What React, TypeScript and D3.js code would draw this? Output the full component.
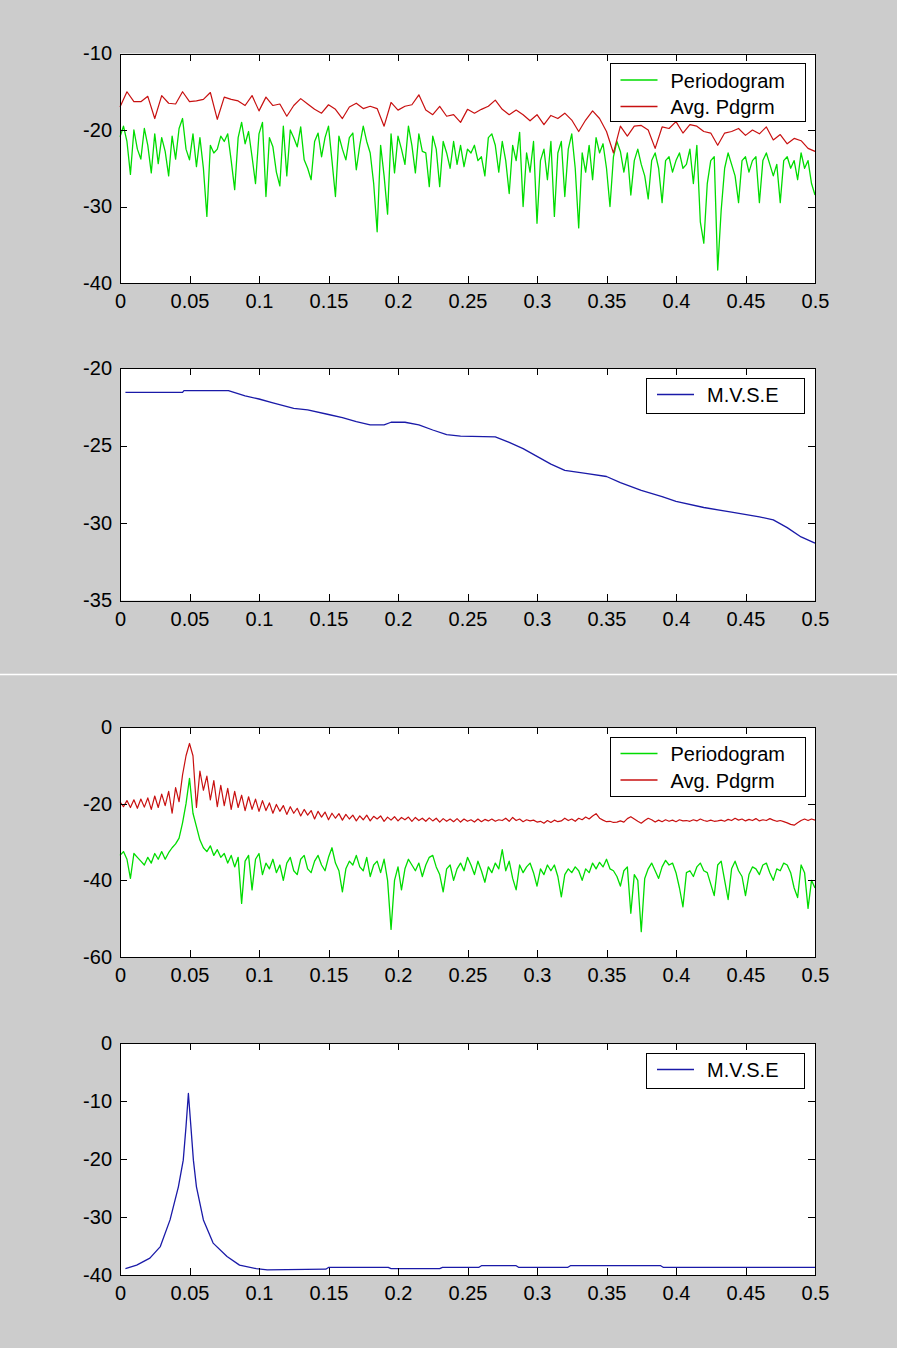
import React, { useRef, useEffect } from 'react';
import * as d3 from 'd3';

const WIDTH = 897;
const HEIGHT = 1348;
const PLOT_LEFT = 120;
const PLOT_RIGHT = 815;
const FONT = 'Liberation Sans, Arial, Helvetica, sans-serif';

// sample grids (normalised frequency 0 .. 0.5)
const freqGrid = d3.range(201).map((i) => (i * 0.5) / 200);
const avgGrid = d3.range(101).map((i) => (i * 0.5) / 100);

const xTicks = [0, 0.05, 0.1, 0.15, 0.2, 0.25, 0.3, 0.35, 0.4, 0.45, 0.5];

// ---- figure 1 : white-ish noise ----
const pdgrm1 = [
  -20.9, -19.5, -21.5, -25.8, -20.0, -22.5, -23.8, -19.8, -22.0, -25.6,
  -20.5, -24.4, -21.0, -22.8, -26.0, -20.8, -23.8, -19.8, -18.5, -22.5,
  -23.9, -20.5, -24.8, -21.0, -25.0, -31.3, -22.0, -23.0, -22.5, -20.8,
  -21.5, -20.5, -24.0, -27.8, -21.0, -19.0, -21.8, -20.2, -23.5, -27.0,
  -20.5, -19.0, -28.7, -21.0, -22.2, -25.5, -27.3, -19.5, -26.0, -20.0,
  -21.0, -22.2, -19.6, -23.9, -25.0, -26.5, -21.5, -20.4, -23.5, -21.0,
  -19.5, -24.0, -28.7, -20.8, -22.5, -23.9, -21.0, -20.4, -25.2, -22.0,
  -19.5, -21.5, -23.0, -27.0, -33.3, -22.0, -26.0, -31.0, -20.5, -25.6,
  -20.8, -22.5, -24.5, -19.5, -22.0, -25.6, -20.5, -22.8, -23.0, -27.4,
  -20.8, -22.5, -27.4, -21.5, -23.0, -25.0, -21.5, -24.5, -22.0, -24.8,
  -22.5, -23.0, -22.0, -24.0, -23.5, -26.0, -21.0, -20.5, -22.0, -25.5,
  -21.5, -24.0, -28.3, -22.0, -24.0, -20.3, -30.0, -23.0, -25.5, -21.5,
  -32.2, -24.0, -22.5, -26.5, -21.5, -31.3, -23.0, -21.5, -28.7, -22.5,
  -20.5, -25.0, -32.8, -23.0, -25.5, -22.0, -26.5, -21.0, -23.0, -21.8,
  -25.0, -30.0, -23.5, -21.5, -22.8, -25.5, -23.0, -28.5, -24.0, -22.5,
  -24.5, -26.0, -29.0, -24.0, -23.0, -25.0, -29.5, -24.0, -23.5, -25.5,
  -24.0, -23.0, -25.0, -24.5, -22.5, -27.0, -22.0, -32.0, -34.8, -27.0,
  -24.0, -23.5, -38.3, -30.5, -25.0, -23.0, -24.5, -26.0, -29.5, -24.0,
  -23.5, -25.5, -24.0, -23.5, -29.5, -24.0, -23.0, -24.5, -26.0, -24.5,
  -29.5, -24.0, -23.5, -25.0, -24.0, -26.5, -23.0, -25.0, -24.0, -27.0,
  -28.5,
];

const avg1 = [
  -17.0, -15.0, -16.3, -16.3, -15.6, -18.5, -15.5, -16.5, -16.6, -15.0,
  -16.3, -16.2, -16.0, -15.1, -18.6, -15.7, -16.0, -16.2, -16.8, -15.5,
  -17.5, -15.7, -16.8, -16.6, -18.2, -16.8, -15.9, -16.6, -17.3, -17.8,
  -16.7, -17.3, -18.5, -17.0, -16.5, -17.2, -16.9, -17.2, -19.5, -16.4,
  -17.4, -16.9, -16.7, -15.4, -17.4, -18.0, -16.9, -18.2, -18.0, -19.0,
  -17.3, -17.8, -17.3, -16.9, -16.1, -17.3, -18.0, -17.4, -18.0, -18.8,
  -18.0, -19.3, -18.1, -18.5, -17.8, -18.7, -20.2, -18.7, -17.5, -18.5,
  -20.2, -23.0, -19.5, -20.8, -19.5, -19.4, -20.0, -22.4, -19.6, -19.8,
  -18.9, -20.4, -19.3, -19.5, -20.2, -20.4, -22.0, -20.4, -20.2, -19.8,
  -20.7, -20.0, -20.5, -19.6, -21.3, -20.6, -21.8, -21.1, -21.4, -22.4,
  -22.8,
];

const mvse1Freq = [
  0.0039, 0.045, 0.046, 0.078, 0.09, 0.1, 0.11, 0.125, 0.135, 0.15, 0.16,
  0.17, 0.18, 0.19, 0.195, 0.205, 0.215, 0.225, 0.235, 0.245, 0.27, 0.28,
  0.29, 0.3, 0.31, 0.32, 0.335, 0.35, 0.36, 0.375, 0.39, 0.4, 0.42, 0.44,
  0.46, 0.47, 0.48, 0.49, 0.5,
];
const mvse1 = [
  -21.57, -21.57, -21.46, -21.46, -21.8, -22.0, -22.25, -22.6, -22.7, -23.0,
  -23.2, -23.46, -23.67, -23.67, -23.5, -23.5, -23.67, -24.0, -24.3, -24.4,
  -24.45, -24.8, -25.2, -25.7, -26.2, -26.6, -26.8, -27.0, -27.4, -27.9,
  -28.3, -28.6, -29.0, -29.3, -29.6, -29.8, -30.3, -30.9, -31.3,
];

// ---- figure 2 : sinusoid at 0.05 in noise ----
const pdgrm2 = [
  -33.5, -32.5, -34.5, -39.5, -33.0, -34.0, -35.0, -36.0, -34.0, -35.5,
  -33.0, -34.5, -32.5, -34.5, -32.8, -31.5, -30.5, -29.0, -25.0, -20.0,
  -13.4, -22.5, -26.0, -29.5, -31.5, -32.5, -31.0, -33.5, -32.0, -34.0,
  -33.0, -35.5, -33.5, -36.5, -34.0, -46.0, -35.0, -33.5, -42.5, -34.5,
  -33.0, -38.5, -35.5, -37.0, -34.5, -38.0, -36.0, -40.0, -35.5, -34.0,
  -37.5, -38.5, -34.5, -33.5, -37.0, -38.0, -35.0, -33.5, -36.0, -37.5,
  -34.0, -31.5, -35.5, -37.5, -43.0, -37.0, -35.0, -36.0, -33.5, -36.5,
  -37.5, -34.0, -39.0, -36.0, -35.0, -38.0, -34.5, -40.0, -52.8, -40.0,
  -36.5, -42.5, -37.0, -34.5, -36.0, -37.5, -35.5, -39.0, -36.0, -34.0,
  -33.5, -36.5, -38.5, -43.0, -37.0, -36.0, -40.0, -37.0, -35.5, -37.5,
  -34.0, -36.0, -38.5, -35.0, -37.5, -40.5, -36.5, -38.0, -35.5, -37.0,
  -32.0, -37.5, -35.0, -39.5, -42.5, -36.0, -38.0, -36.5, -35.5, -38.0,
  -41.5, -37.0, -38.5, -36.0, -37.5, -36.0, -39.0, -44.3, -38.5, -37.0,
  -38.0, -36.5, -37.5, -40.0, -37.0, -38.0, -35.5, -37.0, -35.3, -36.5,
  -34.5, -37.0, -37.5, -39.0, -41.5, -37.5, -36.5, -48.6, -38.5, -40.0,
  -53.4, -39.5, -37.0, -35.5, -37.5, -39.5, -36.5, -34.8, -36.0, -35.5,
  -38.0, -42.0, -46.9, -38.0, -37.5, -39.0, -36.5, -35.5, -37.5, -38.0,
  -41.0, -44.0, -36.0, -35.0, -40.0, -45.0, -37.0, -35.0, -37.5, -39.0,
  -44.0, -38.5, -36.5, -37.0, -38.5, -36.0, -35.5, -38.0, -40.0, -37.0,
  -37.5, -35.5, -36.0, -38.0, -42.0, -44.5, -36.0, -38.0, -47.3, -40.0,
  -42.0,
];

const avg2 = [
  -19.5, -20.8, -19.2, -21.0, -19.0, -21.2, -18.8, -20.9, -18.5, -21.5,
  -18.0, -21.0, -17.5, -20.5, -16.8, -22.5, -15.8, -19.5, -12.5, -7.5,
  -4.3, -7.5, -21.0, -11.5, -16.5, -12.8, -19.0, -14.0, -20.8, -15.2,
  -20.5, -16.0, -21.5, -16.8, -21.0, -17.8, -21.8, -18.2, -21.5, -18.8,
  -22.0, -19.2, -21.8, -19.8, -22.5, -20.2, -22.0, -20.5, -22.8, -20.8,
  -22.5, -21.2, -23.2, -21.5, -23.0, -21.8, -24.0, -22.0, -23.5, -22.2,
  -24.2, -22.5, -23.8, -22.6, -24.3, -22.8, -24.0, -23.0, -24.5, -23.2,
  -24.2, -23.0, -24.5, -23.3, -24.0, -23.2, -24.6, -23.5, -24.3, -23.4,
  -24.5, -23.6, -24.2, -23.5, -24.6, -23.6, -24.4, -23.8, -24.6, -23.7,
  -24.5, -23.8, -24.8, -23.9, -24.6, -24.0, -24.7, -23.9, -24.8, -24.0,
  -24.6, -24.2, -24.8, -24.0, -24.7, -24.1, -24.5, -24.0, -24.6, -24.2,
  -24.4, -23.8, -24.6, -23.6, -24.4, -24.0, -24.7, -24.2, -24.5, -24.3,
  -24.8, -24.6, -25.1, -24.4, -24.9, -24.3, -24.7, -24.5, -23.8, -24.4,
  -24.0, -24.6, -23.8, -24.2, -23.5, -24.0, -23.2, -22.6, -23.8, -24.3,
  -24.7, -24.6, -24.9, -24.8, -24.5, -24.8, -23.9, -23.4, -24.0, -24.6,
  -25.1, -24.4, -23.8, -24.2, -24.8, -24.3, -24.7, -24.2, -24.6, -24.3,
  -24.7, -24.2, -24.5, -24.4, -24.6, -24.2, -24.5, -24.0, -24.4, -24.6,
  -24.3, -24.6, -24.5, -24.3, -24.6, -24.1, -24.4, -23.8, -24.3, -24.0,
  -24.5, -24.1, -24.4, -23.9, -24.5, -24.2, -24.4, -23.9, -24.3, -24.6,
  -24.4, -24.7, -25.0, -25.4, -25.6, -25.0, -24.4, -24.0, -24.4, -24.0,
  -24.3,
];

const mvse2Freq = [
  0.0039, 0.012, 0.0215, 0.029, 0.036, 0.042, 0.0455, 0.0475, 0.0492, 0.051,
  0.0528, 0.055, 0.06, 0.067, 0.077, 0.086, 0.098, 0.106, 0.148, 0.15, 0.193,
  0.195, 0.23, 0.232, 0.258, 0.26, 0.285, 0.287, 0.322, 0.324, 0.389, 0.391,
  0.5,
];
const mvse2 = [
  -38.9, -38.3, -37.1, -35.1, -30.5, -24.8, -20.2, -14.4, -8.7, -14.4,
  -20.2, -24.8, -30.5, -34.5, -36.8, -38.3, -38.9, -39.1, -39.0, -38.7,
  -38.7, -38.9, -38.9, -38.7, -38.7, -38.4, -38.4, -38.7, -38.7, -38.4,
  -38.4, -38.7, -38.7,
];

const GREEN = '#00dc00';
const RED = '#c81010';
const BLUE = '#1a1aa8';

const panels = [
  {
    top: 53.5, bottom: 283, yDomain: [-40, -10], yTicks: [-40, -30, -20, -10],
    series: [
      { freq: freqGrid, values: pdgrm1, color: GREEN, width: 1.3 },
      { freq: avgGrid, values: avg1, color: RED, width: 1.2 },
    ],
    legend: { left: 609.5, height: 58, items: [
      { label: 'Periodogram', color: GREEN },
      { label: 'Avg. Pdgrm', color: RED },
    ] },
  },
  {
    top: 368, bottom: 600.5, yDomain: [-35, -20], yTicks: [-35, -30, -25, -20],
    series: [{ freq: mvse1Freq, values: mvse1, color: BLUE, width: 1.3 }],
    legend: { left: 646, height: 34.5, items: [{ label: 'M.V.S.E', color: BLUE }] },
  },
  {
    top: 727, bottom: 957, yDomain: [-60, 0], yTicks: [-60, -40, -20, 0],
    series: [
      { freq: freqGrid, values: pdgrm2, color: GREEN, width: 1.3 },
      { freq: freqGrid, values: avg2, color: RED, width: 1.2 },
    ],
    legend: { left: 609.5, height: 59, items: [
      { label: 'Periodogram', color: GREEN },
      { label: 'Avg. Pdgrm', color: RED },
    ] },
  },
  {
    top: 1043, bottom: 1275, yDomain: [-40, 0], yTicks: [-40, -30, -20, -10, 0],
    series: [{ freq: mvse2Freq, values: mvse2, color: BLUE, width: 1.3 }],
    legend: { left: 646, height: 34.5, items: [{ label: 'M.V.S.E', color: BLUE }] },
  },
];

const fmtX = (d) => String(+(+d).toFixed(2));

const Panel = ({ cfg }) => {
  const ref = useRef(null);

  useEffect(() => {
    const g = d3.select(ref.current);
    g.selectAll('*').remove();

    const x = d3.scaleLinear().domain([0, 0.5]).range([PLOT_LEFT, PLOT_RIGHT]);
    const y = d3.scaleLinear().domain(cfg.yDomain).range([cfg.bottom, cfg.top]);

    g.append('rect')
      .attr('x', PLOT_LEFT)
      .attr('y', cfg.top)
      .attr('width', PLOT_RIGHT - PLOT_LEFT)
      .attr('height', cfg.bottom - cfg.top)
      .attr('fill', '#fff');

    // data lines
    const line = d3.line().x((d) => x(d[0])).y((d) => y(d[1]));
    cfg.series.forEach((s) => {
      g.append('path')
        .datum(d3.zip(s.freq, s.values))
        .attr('d', line)
        .attr('fill', 'none')
        .attr('stroke', s.color)
        .attr('stroke-width', s.width)
        .attr('stroke-linejoin', 'round');
    });

    // axes, ticks pointing inward on all four sides
    const styleAxis = (sel) => {
      sel.select('.domain').remove();
      sel.attr('color', '#000')
        .attr('font-family', FONT)
        .attr('font-size', 20);
      sel.selectAll('line').attr('shape-rendering', 'crispEdges');
    };

    g.append('g')
      .attr('transform', `translate(0,${cfg.bottom})`)
      .call(d3.axisBottom(x).tickValues(xTicks).tickSize(-7).tickPadding(11).tickFormat(fmtX))
      .call(styleAxis);
    g.append('g')
      .attr('transform', `translate(0,${cfg.top})`)
      .call(d3.axisTop(x).tickValues(xTicks).tickSize(-7).tickFormat(() => ''))
      .call(styleAxis);
    g.append('g')
      .attr('transform', `translate(${PLOT_LEFT},0)`)
      .call(d3.axisLeft(y).tickValues(cfg.yTicks).tickSize(-7).tickPadding(8).tickFormat((d) => String(d)))
      .call(styleAxis);
    g.append('g')
      .attr('transform', `translate(${PLOT_RIGHT},0)`)
      .call(d3.axisRight(y).tickValues(cfg.yTicks).tickSize(-7).tickFormat(() => ''))
      .call(styleAxis);

    // box
    g.append('rect')
      .attr('x', PLOT_LEFT + 0.5)
      .attr('y', Math.round(cfg.top) + 0.5)
      .attr('width', PLOT_RIGHT - PLOT_LEFT)
      .attr('height', Math.round(cfg.bottom) - Math.round(cfg.top))
      .attr('fill', 'none')
      .attr('stroke', '#000')
      .attr('shape-rendering', 'crispEdges');

    // legend
    const lg = cfg.legend;
    const lTop = cfg.top + 9.5;
    const leg = g.append('g');
    leg.append('rect')
      .attr('x', Math.round(lg.left) + 0.5)
      .attr('y', Math.round(lTop) + 0.5)
      .attr('width', 804 - lg.left)
      .attr('height', lg.height)
      .attr('fill', '#fff')
      .attr('stroke', '#000')
      .attr('shape-rendering', 'crispEdges');
    lg.items.forEach((it, i) => {
      const ly = lTop + 17 + i * 26.5;
      leg.append('line')
        .attr('x1', lg.left + 11)
        .attr('x2', lg.left + 48)
        .attr('y1', ly)
        .attr('y2', ly)
        .attr('stroke', it.color)
        .attr('stroke-width', 1.3);
      leg.append('text')
        .attr('x', lg.left + 61)
        .attr('y', ly + 7.5)
        .attr('font-family', FONT)
        .attr('font-size', 20)
        .attr('fill', '#000')
        .text(it.label);
    });
  }, [cfg]);

  return <g ref={ref} />;
};

export default function App() {
  useEffect(() => {
    document.body.style.margin = '0';
  }, []);

  return (
    <svg width={WIDTH} height={HEIGHT} style={{ display: 'block' }}>
      <rect width={WIDTH} height={HEIGHT} fill="#cccccc" />
      <line x1={0} x2={WIDTH} y1={674.5} y2={674.5} stroke="#fff" strokeWidth={1.5} />
      {panels.map((p, i) => (
        <Panel key={i} cfg={p} />
      ))}
    </svg>
  );
}
